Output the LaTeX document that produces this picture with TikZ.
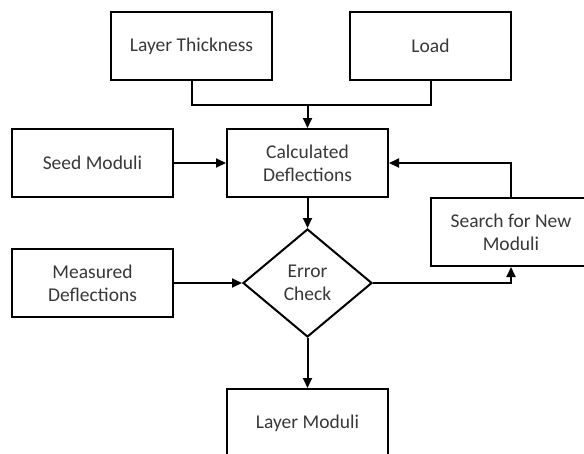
\documentclass[tikz,border=0pt]{standalone}
\usepackage{fontspec}
\setmainfont{Carlito}
\usetikzlibrary{shapes.geometric, arrows.meta, positioning}
\tikzstyle{caja} = [draw, line width=2pt, rectangle, minimum width=161pt, minimum height=68pt, align=center, text=black!78, font=\fontsize{19.5}{23}\selectfont]
\tikzstyle{rombo} = [draw, line width=2pt, diamond, minimum width=129pt, minimum height=108pt, inner sep=0pt, align=center, text=black!78, font=\fontsize{19.5}{23}\selectfont]
\tikzstyle{linea} = [line width=2pt]
\tikzstyle{flecha} = [line width=2pt, -{Triangle[length=10pt,width=9pt]}]

\begin{document}
\begin{tikzpicture}[x=1pt, y=-1pt]
	\useasboundingbox (0,0) rectangle (584,453);
	% cajas
	\node [caja] (espesor) at (191.5,46) {Layer Thickness};
	\node [caja] (carga) at (430.5,46) {Load};
	\node [caja] (semilla) at (92.5,163) {Seed Moduli};
	\node [caja] (calculadas) at (307.5,163) {Calculated\\Deflections};
	\node [caja] (busqueda) at (511,232) {Search for New\\Moduli};
	\node [caja] (medidas) at (92.5,283) {Measured\\Deflections};
	\node [rombo] (error) at (307.5,283) {Error\\Check};
	\node [caja] (modulos) at (307.5,423) {Layer Moduli};
	% conexiones
	\coordinate (union) at (307.5,105);
	\draw [linea] (espesor.south) |- (union) -| (carga.south);
	\draw [flecha] (union) -- (calculadas.north);
	\draw [flecha] (semilla.east) -- (calculadas.west);
	\draw [flecha] (calculadas.south) -- (error.north);
	\draw [flecha] (medidas.east) -- (error.west);
	\draw [flecha] (error.east) -| (busqueda.south);
	\draw [flecha] (busqueda.north) |- (calculadas.east);
	\draw [flecha] (error.south) -- (modulos.north);
\end{tikzpicture}
\end{document}
